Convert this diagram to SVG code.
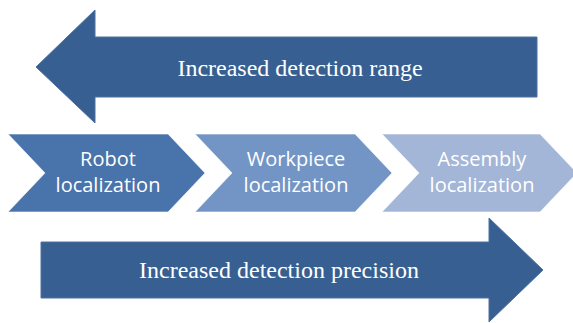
<svg xmlns="http://www.w3.org/2000/svg" width="573" height="323" viewBox="0 0 573 323">
  <style>
    .arrow { fill: #375f91; stroke: #4d72a0; stroke-width: 1; }
    .chev { stroke: #ffffff; stroke-opacity: 0.6; stroke-width: 1; }
    .serif { font-family: "Liberation Serif", "Times New Roman", serif; font-size: 24px; fill: #ffffff; text-anchor: middle; }
    .sans { font-family: "Open Sans", "Noto Sans", "Liberation Sans", sans-serif; font-size: 20px; fill: #ffffff; text-anchor: middle; }
  </style>
  <rect width="573" height="323" fill="#ffffff"/>

  <!-- left-pointing arrow: range -->
  <g id="range-arrow">
    <polygon class="arrow" points="36,67 95,10 95,37 537,37 537,97 95,97 95,123"/>
    <text class="serif" x="300" y="76">Increased detection range</text>
  </g>

  <!-- process chevrons -->
  <g id="robot-localization">
    <polygon class="chev" fill="#4973ab" points="8,134 168,134 205,173 168,212 8,212 45,173"/>
    <text class="sans" x="108" y="166">Robot</text>
    <text class="sans" x="108" y="192">localization</text>
  </g>
  <g id="workpiece-localization">
    <polygon class="chev" fill="#7395c5" points="195,134 355,134 392,173 355,212 195,212 232,173"/>
    <text class="sans" x="296" y="166">Workpiece</text>
    <text class="sans" x="296" y="192">localization</text>
  </g>
  <g id="assembly-localization">
    <polygon class="chev" fill="#a3b6d7" points="382,134 540,134 577,173 540,212 382,212 419,173"/>
    <text class="sans" x="482" y="166">Assembly</text>
    <text class="sans" x="482" y="192">localization</text>
  </g>

  <!-- right-pointing arrow: precision -->
  <g id="precision-arrow">
    <polygon class="arrow" points="41,242 489,242 489,218 543,270 489,322 489,298 41,298"/>
    <text class="serif" x="279" y="278">Increased detection precision</text>
  </g>

  <g id="connectors"/>
</svg>
